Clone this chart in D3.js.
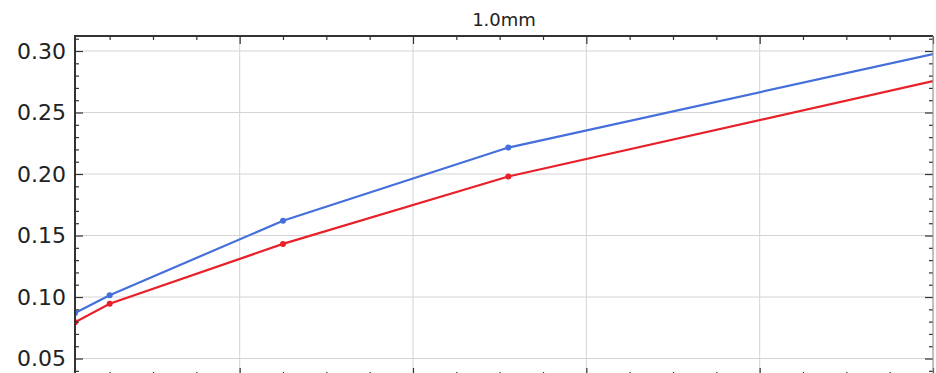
<!DOCTYPE html>
<html>
<head>
<meta charset="utf-8">
<script src="https://cdn.jsdelivr.net/npm/d3@7"></script>
<style>
    body { margin: 0; background: #fff; }
    svg { display: block; font-family: "DejaVu Sans", sans-serif; }
</style>
</head>
<body>
<div id="chart"></div>
<script>
// data
const chartTitle = "1.0mm";
const xValues = [0.2, 1, 5, 10.2, 20];
const blueValues = [0.087, 0.1015, 0.162, 0.2215, 0.2975];
const redValues = [0.0795, 0.0945, 0.1432, 0.198, 0.2755];
const yTickValues = [0.05, 0.10, 0.15, 0.20, 0.25, 0.30];
const xTickValues = [4, 8, 12, 16, 20];

class LineChartD3 {
    margin = {top: 36, right: 3, bottom: -3, left: 75};
    size = {width: 936, height: 373};
    majorTick = 8;
    minorTick = 4;

    constructor(el){
        this.el = el;
    }

    create(){
        this.width = this.size.width - this.margin.left - this.margin.right;
        this.height = this.size.height - this.margin.top - this.margin.bottom;

        this.root = d3.select(this.el).append("svg")
            .attr("width", this.size.width)
            .attr("height", this.size.height)
        ;
        this.svg = this.root.append("g")
            .attr("transform", "translate(" + this.margin.left + "," + this.margin.top + ")")
        ;
        this.svg.append("clipPath").attr("id", "plotClip")
            .append("rect").attr("width", this.width).attr("height", this.height)
        ;

        this.xScale = d3.scaleLinear().domain([0.2, 20]).range([0, this.width]);
        this.yScale = d3.scaleLinear().domain([0.0358, 0.3122]).range([this.height, 0]);
    }

    drawGrid(){
        const grid = this.svg.append("g").attr("class", "grid");
        grid.selectAll(".vgrid").data(xTickValues).join("line")
            .attr("x1", d => this.xScale(d)).attr("x2", d => this.xScale(d))
            .attr("y1", 0).attr("y2", this.height)
            .attr("stroke", "#d4d4d4").attr("stroke-width", 1)
        ;
        grid.selectAll(".hgrid").data(yTickValues).join("line")
            .attr("x1", 0).attr("x2", this.width)
            .attr("y1", d => this.yScale(d)).attr("y2", d => this.yScale(d))
            .attr("stroke", "#d4d4d4").attr("stroke-width", 1)
        ;
    }

    drawAxes(){
        const xMinor = d3.range(1, 21).filter(v => v % 4 !== 0);
        const yMinor = d3.range(4, 32).map(v => v / 100).filter(v => Math.round(v * 100) % 5 !== 0);

        // inward ticks on all four sides, labels only on the left
        const sides = [
            {axis: d3.axisBottom, scale: this.xScale, major: xTickValues, minor: xMinor, y: 0, x: 0},
            {axis: d3.axisTop, scale: this.xScale, major: xTickValues, minor: xMinor, y: this.height, x: 0},
            {axis: d3.axisRight, scale: this.yScale, major: yTickValues, minor: yMinor, y: 0, x: 0},
            {axis: d3.axisLeft, scale: this.yScale, major: yTickValues, minor: yMinor, y: 0, x: this.width}
        ];
        sides.forEach(s => {
            const g = this.svg.append("g").attr("transform", `translate(${s.x},${s.y})`);
            g.append("g").call(s.axis(s.scale).tickValues(s.minor).tickSize(this.minorTick).tickFormat(""))
                .call(a => a.select(".domain").remove())
            ;
            g.append("g").call(s.axis(s.scale).tickValues(s.major).tickSize(this.majorTick).tickFormat(""))
                .call(a => a.select(".domain").remove())
            ;
            g.selectAll(".tick line").attr("stroke", "#333").attr("stroke-width", 1.2);
        });

        // y labels
        this.svg.append("g").selectAll("text").data(yTickValues).join("text")
            .attr("x", -9)
            .attr("y", d => this.yScale(d))
            .attr("dy", "0.36em")
            .attr("text-anchor", "end")
            .attr("font-size", 22)
            .attr("fill", "#222")
            .text(d => d3.format(".2f")(d))
        ;

        // frame
        this.svg.append("line").attr("x1", 0).attr("x2", 0).attr("y1", -1).attr("y2", this.height)
            .attr("stroke", "#333").attr("stroke-width", 2);
        this.svg.append("line").attr("x1", -1).attr("x2", this.width).attr("y1", 0).attr("y2", 0)
            .attr("stroke", "#333").attr("stroke-width", 2);
        this.svg.append("line").attr("x1", this.width).attr("x2", this.width).attr("y1", 0).attr("y2", this.height)
            .attr("stroke", "#999").attr("stroke-width", 1);

        this.svg.append("text")
            .attr("x", this.width / 2)
            .attr("y", -10)
            .attr("text-anchor", "middle")
            .attr("font-size", 18)
            .attr("fill", "#222")
            .text(chartTitle)
        ;
    }

    drawSeries(values, color){
        const data = xValues.map((x, i) => ({x: x, y: values[i]}));
        const g = this.svg.append("g").attr("clip-path", "url(#plotClip)");
        const line = d3.line().x(d => this.xScale(d.x)).y(d => this.yScale(d.y));
        g.append("path").datum(data)
            .attr("d", line)
            .attr("fill", "none")
            .attr("stroke", color)
            .attr("stroke-width", 2.2)
        ;
        // the last point sits on the right edge and shows no marker there
        g.selectAll("circle").data(data.slice(0, -1)).join("circle")
            .attr("cx", d => this.xScale(d.x))
            .attr("cy", d => this.yScale(d.y))
            .attr("r", 3)
            .attr("fill", color)
        ;
    }
}

const chart = new LineChartD3(document.getElementById("chart"));
chart.create();
chart.drawGrid();
chart.drawSeries(blueValues, "#456fda");
chart.drawSeries(redValues, "#e8202a");
chart.drawAxes();
</script>
</body>
</html>
